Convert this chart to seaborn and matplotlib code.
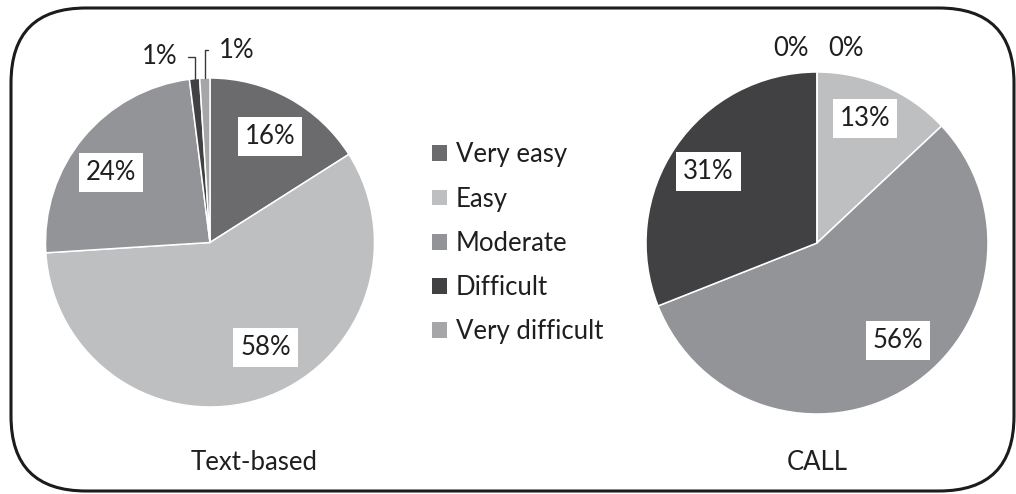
import numpy as np
import matplotlib
matplotlib.use("Agg")
import matplotlib.pyplot as plt
import seaborn as sns
from matplotlib.patches import FancyBboxPatch, Patch

CATEGORIES = ["Very easy", "Easy", "Moderate", "Difficult", "Very difficult"]
TEXT_BASED = [16, 58, 24, 1, 1]
CALL = [0, 13, 56, 31, 0]
PIE_TITLES = ["Text-based", "CALL"]

COLORS = ["#6b6b6e", "#bebfc1", "#939497", "#414144", "#a6a6a9"]
TEXT_COLOR = "#1f1f1f"
FONT_SIZE = 18.5

# (angle shift from the wedge middle in degrees, radius) for every label
TEXT_BASED_LABEL_POS = [(-0.6, 0.74), (10, 0.72), (4.3, 0.74), (9.8, 1.17), (-9.6, 1.18)]
CALL_LABEL_POS = [(7.7, 1.15), (2.4, 0.78), (7.3, 0.74), (0.7, 0.76), (-8.6, 1.15)]

W, H = 1016, 494


def px_box(cx, cy, r):
    """axes rect in figure fraction from a centre/radius given in pixels (top origin)"""
    return [(cx - r) / W, (H - cy - r) / H, 2 * r / W, 2 * r / H]


def draw_pie(ax, values, label_pos):
    wedges, _ = ax.pie(values, colors=sns.color_palette(COLORS), startangle=90,
                       counterclock=False,
                       wedgeprops=dict(edgecolor="white", linewidth=1.1))
    ax.set_xlim(-1, 1)
    ax.set_ylim(-1, 1)
    for wedge, value, (shift, r) in zip(wedges, values, label_pos):
        mid = np.deg2rad((wedge.theta1 + wedge.theta2) / 2 + shift)
        tx, ty = r * np.cos(mid), r * np.sin(mid)
        label = f"{value}%"
        if r < 1:
            ax.text(tx, ty, label, ha="center", va="center", fontsize=FONT_SIZE,
                    color=TEXT_COLOR,
                    bbox=dict(boxstyle="square,pad=0.27", fc="white", ec="none"))
        elif value > 0:
            edge = np.deg2rad((wedge.theta1 + wedge.theta2) / 2)
            ax.annotate(label, xy=(np.cos(edge), np.sin(edge)), xytext=(tx, ty),
                        ha="center", va="center", fontsize=FONT_SIZE, color=TEXT_COLOR,
                        annotation_clip=False,
                        arrowprops=dict(arrowstyle="-", color="#3a3a3a", lw=1.0,
                                        shrinkA=5, shrinkB=0,
                                        connectionstyle="angle,angleA=0,angleB=90,rad=0"))
        else:
            ax.text(tx, ty, label, ha="center", va="center", fontsize=FONT_SIZE,
                    color=TEXT_COLOR)


def main():
    sns.set_theme(style="white")
    plt.rcParams["font.family"] = ["Lato", "DejaVu Sans"]

    fig = plt.figure(figsize=(W / 100, H / 100), dpi=100)

    ax1 = fig.add_axes(px_box(210, 242.5, 164.5))
    draw_pie(ax1, TEXT_BASED, TEXT_BASED_LABEL_POS)

    ax2 = fig.add_axes(px_box(817, 243, 171))
    draw_pie(ax2, CALL, CALL_LABEL_POS)

    fig.text(191 / W, (H - 470) / H, PIE_TITLES[0], ha="left", va="baseline",
             fontsize=FONT_SIZE, color=TEXT_COLOR)
    fig.text(817 / W, (H - 470) / H, PIE_TITLES[1], ha="center", va="baseline",
             fontsize=FONT_SIZE, color=TEXT_COLOR)

    handles = [Patch(facecolor=c, edgecolor="none") for c in COLORS]
    fig.legend(handles, CATEGORIES, loc="center left",
               bbox_to_anchor=(432 / W, (H - 243.3) / H), frameon=False,
               fontsize=FONT_SIZE, labelcolor=TEXT_COLOR, borderpad=0,
               handlelength=0.57, handleheight=0.57, handletextpad=0.35,
               labelspacing=0.75, borderaxespad=0)

    frame = FancyBboxPatch((0.11, 0.03), 10.03, 4.83,
                           boxstyle="round,pad=0,rounding_size=0.75",
                           transform=fig.dpi_scale_trans, fill=False,
                           edgecolor="#1c1c1c", linewidth=2.2)
    fig.add_artist(frame)

    fig.savefig("out.png", dpi=100, facecolor="white")


if __name__ == "__main__":
    main()
